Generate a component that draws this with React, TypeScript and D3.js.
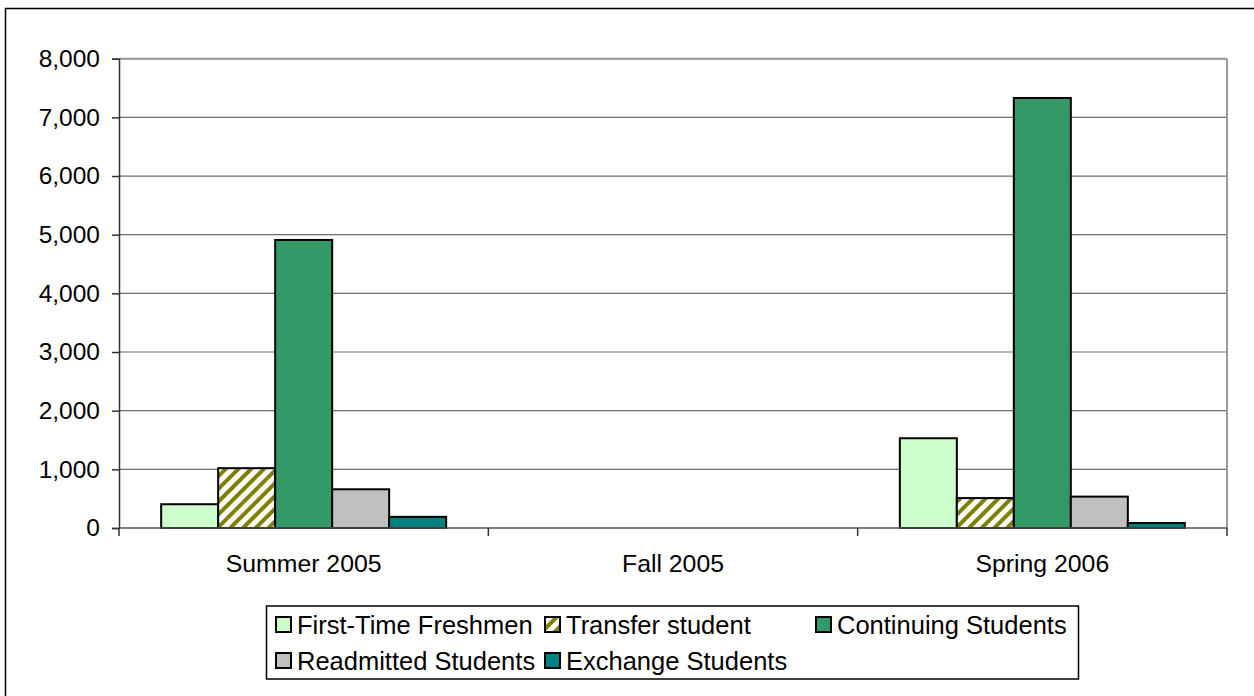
import React, { useEffect, useRef } from 'react';
import * as d3 from 'd3';

const categories = ['Summer 2005', 'Fall 2005', 'Spring 2006'];
const seriesNames = ['First-Time Freshmen', 'Transfer student', 'Continuing Students', 'Readmitted Students', 'Exchange Students'];
const firstTime = [405, 0, 1530];
const transfer = [1020, 0, 510];
const continuing = [4910, 0, 7330];
const readmitted = [660, 0, 535];
const exchange = [190, 0, 85];
const yTicks = [0, 1000, 2000, 3000, 4000, 5000, 6000, 7000, 8000];

const fills = ['#CCFFCC', 'url(#stripes)', '#339966', '#C0C0C0', '#008080'];
const FONT = '"Liberation Sans", Arial, sans-serif';

export default function App() {
    const svgRef = useRef<SVGSVGElement>(null);

    useEffect(() => {
        const svg = d3.select(svgRef.current);
        svg.selectAll('*').remove();

        const width = 1254;
        const height = 696;
        const left = 119, right = 1227, top = 58.7, bottom = 528;

        const values = [firstTime, transfer, continuing, readmitted, exchange];

        // pattern for the transfer series
        const defs = svg.append('defs');
        const pat = defs.append('pattern')
            .attr('id', 'stripes')
            .attr('patternUnits', 'userSpaceOnUse')
            .attr('width', 9)
            .attr('height', 9)
            .attr('patternTransform', 'rotate(45)');
        pat.append('rect').attr('width', 9).attr('height', 9).attr('fill', '#ffffff');
        pat.append('rect').attr('x', 0).attr('width', 4).attr('height', 9).attr('fill', '#808000');

        // outer border
        svg.append('rect')
            .attr('x', 5.5).attr('y', 8.5)
            .attr('width', width + 10).attr('height', height + 10)
            .attr('fill', '#fff')
            .attr('stroke', '#000')
            .attr('stroke-width', 1.5);

        const x = d3.scaleBand<string>().domain(categories).range([left, right]).padding(0);
        const xs = d3.scaleBand<number>()
            .domain(d3.range(seriesNames.length))
            .range([0, x.bandwidth()])
            .paddingInner(0)
            .paddingOuter(0.74);
        const y = d3.scaleLinear().domain([0, 8000]).range([bottom, top]);

        // gridlines
        svg.append('g').selectAll('line')
            .data(yTicks.filter(t => t > 0))
            .enter()
            .append('line')
            .attr('x1', left).attr('x2', right)
            .attr('y1', d => y(d)).attr('y2', d => y(d))
            .attr('stroke', '#6e6e6e')
            .attr('stroke-width', 1.2);

        // plot area right/top border
        svg.append('line')
            .attr('x1', right).attr('x2', right)
            .attr('y1', top).attr('y2', bottom)
            .attr('stroke', '#999')
            .attr('stroke-width', 2);
        svg.append('line')
            .attr('x1', left).attr('x2', right)
            .attr('y1', top).attr('y2', top)
            .attr('stroke', '#999')
            .attr('stroke-width', 2);

        // bars
        categories.forEach((cat, ci) => {
            const g = svg.append('g').attr('transform', 'translate(' + x(cat) + ',0)');
            values.forEach((vals, si) => {
                const v = vals[ci];
                if (v <= 0) return;
                g.append('rect')
                    .attr('x', xs(si) as number)
                    .attr('y', y(v))
                    .attr('width', xs.bandwidth())
                    .attr('height', y(0) - y(v))
                    .attr('fill', fills[si])
                    .attr('stroke', '#000')
                    .attr('stroke-width', 2);
            });
        });

        // y axis
        const yAxis = d3.axisLeft(y)
            .tickValues(yTicks)
            .tickSize(7)
            .tickPadding(12)
            .tickFormat(d => d3.format(',')(d as number));
        const ya = svg.append('g').attr('transform', 'translate(' + left + ',0)').call(yAxis);
        ya.select('.domain').attr('stroke', '#333').attr('stroke-width', 1.5);
        ya.selectAll('.tick line').attr('stroke', '#333').attr('stroke-width', 1.5);
        ya.selectAll('.tick text')
            .attr('font-family', FONT)
            .attr('font-size', '24.5px')
            .attr('fill', '#000');

        // x axis
        svg.append('line')
            .attr('x1', left).attr('x2', right)
            .attr('y1', bottom).attr('y2', bottom)
            .attr('stroke', '#555')
            .attr('stroke-width', 1.5);
        const boundaries = categories.map(c => x(c) as number).concat([right]);
        svg.append('g').selectAll('line')
            .data(boundaries)
            .enter()
            .append('line')
            .attr('x1', d => d).attr('x2', d => d)
            .attr('y1', bottom).attr('y2', bottom + 8)
            .attr('stroke', '#333')
            .attr('stroke-width', 1.5);
        svg.append('g').selectAll('text')
            .data(categories)
            .enter()
            .append('text')
            .attr('x', d => (x(d) as number) + x.bandwidth() / 2)
            .attr('y', 572)
            .attr('text-anchor', 'middle')
            .attr('font-family', FONT)
            .attr('font-size', '24.8px')
            .attr('fill', '#000')
            .text(d => d);

        // legend
        svg.append('rect')
            .attr('x', 266.5).attr('y', 606)
            .attr('width', 812).attr('height', 73)
            .attr('fill', '#fff')
            .attr('stroke', '#000')
            .attr('stroke-width', 1.5);
        const legendPos = [
            [276, 617], [545, 617], [816, 617],
            [276, 653], [545, 653]
        ];
        seriesNames.forEach((name, i) => {
            const [lx, ly] = legendPos[i];
            svg.append('rect')
                .attr('x', lx).attr('y', ly)
                .attr('width', 15).attr('height', 15)
                .attr('fill', fills[i])
                .attr('stroke', '#000')
                .attr('stroke-width', 2);
            svg.append('text')
                .attr('x', lx + 21)
                .attr('y', ly + 17)
                .attr('font-family', FONT)
                .attr('font-size', '25.5px')
                .attr('fill', '#000')
                .text(name);
        });
    }, []);

    return (
        <svg ref={svgRef} width={1254} height={696}
            style={{ position: 'absolute', left: 0, top: 0, background: '#fff' }} />
    );
}
